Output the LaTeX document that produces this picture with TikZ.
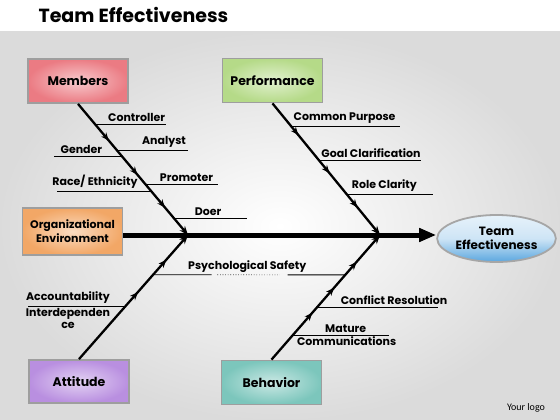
\documentclass[tikz,border=0pt]{standalone}
\usepackage{fontspec}
\setmainfont{Poppins}
\newfontfamily\logofont{Carlito}
\usetikzlibrary{arrows.meta, decorations.markings, shapes.geometric}

\definecolor{memred}{HTML}{EB7B83}
\definecolor{perfgreen}{HTML}{B5DA88}
\definecolor{orgorange}{HTML}{F2A766}
\definecolor{attpurple}{HTML}{B98FE0}
\definecolor{behteal}{HTML}{7CC6BC}
\definecolor{effblue}{HTML}{5BA7DF}

\begin{document}
\begin{tikzpicture}[
  x=1pt, y=-1pt,
  cause/.style={rectangle, draw=black!38, line width=1.8pt, minimum width=100pt, minimum height=44pt,
    align=center, inner color=#1!40!white, outer color=#1, font=\bfseries\fontsize{12.5}{14}\selectfont},
  effect/.style={ellipse, draw=black!35, line width=1.8pt, minimum width=117pt, minimum height=47pt,
    inner sep=1pt, align=center, top color=white!85!effblue, bottom color=effblue, middle color=white!70!effblue,
    font=\bfseries\fontsize{12}{14.5}\selectfont},
  spine/.style={line width=2.3pt, -{Stealth[length=9pt,width=7pt]}},
  midtip/.style={postaction={decoration={markings, mark=at position #1 with {\arrow{Stealth[length=8pt,width=6.5pt]}}}, decorate}},
  mainline/.style={line width=5pt, -{Triangle[length=17pt,width=13pt]}},
  bone/.style={line width=0.9pt},
  lbl/.style={font=\bfseries\fontsize{11}{12.5}\selectfont, inner sep=2.5pt}
]
\useasboundingbox (0,0) rectangle (560,420);

% Background
\fill[white] (0,0) rectangle (560,420);
\shade[inner color=white, outer color=black!14] (0,32) rectangle (560,420);
\node[anchor=west, font=\bfseries\fontsize{19}{22}\selectfont] (title) at (35,15) {Team Effectiveness};
\node[font=\logofont\fontsize{10}{12}\selectfont] (logo) at (526,408) {Your logo};

% Nodes
\node[cause=memred] (members) at (78,81) {Members};
\node[cause=perfgreen] (perf) at (272.5,80.5) {Performance};
\node[cause=orgorange, minimum height=47pt, font=\bfseries\fontsize{11}{14}\selectfont] (org) at (72.5,231.5) {Organizational\\Environment};
\node[cause=attpurple, minimum height=43pt] (att) at (79,381.5) {Attitude};
\node[cause=behteal] (beh) at (271.5,382.5) {Behavior};
\node[effect] (goal) at (496.5,238.5) {Team\\Effectiveness};

\coordinate (j1) at (188,235);
\coordinate (j2) at (380,235);

% Arrows
\draw[mainline] (org.east |- j1) -- (goal.west |- j1);

\draw[spine, midtip=0.28, midtip=0.54, midtip=0.79] (members.south)
  -- coordinate[pos=0.159] (mc) coordinate[pos=0.356] (ma) coordinate[pos=0.402] (mg)
     coordinate[pos=0.614] (mp) coordinate[pos=0.667] (mr) coordinate[pos=0.871] (md) (j1);
\draw[spine, midtip=0.24, midtip=0.53, midtip=0.79] (perf.south)
  -- coordinate[pos=0.174] (pc) coordinate[pos=0.432] (pg) coordinate[pos=0.689] (pr) (j2);
\draw[spine, midtip=0.54, midtip=0.8] (att.north)
  -- coordinate[pos=0.424] (la) coordinate[pos=0.68] (lp) (j1);
\draw[spine, midtip=0.376, midtip=0.576, midtip=0.784] (beh.north)
  -- coordinate[pos=0.192] (rm) coordinate[pos=0.416] (rc) coordinate[pos=0.68] (rp) (j2);

% Bones
\draw[bone] (mc) -- ++(71,0) node[lbl, pos=0.58, above] {Controller};
\draw[bone] (ma) -- ++(71,0) node[lbl, pos=0.66, above] {Analyst};
\draw[bone] (mg) -- ++(-68,0) node[lbl, pos=0.6, above] {Gender};
\draw[bone] (mp) -- ++(72,0) node[lbl, pos=0.57, above] {Promoter};
\draw[bone] (mr) -- ++(-94,0) node[lbl, pos=0.6, above] {Race/ Ethnicity};
\draw[bone] (md) -- ++(73,0) node[lbl, pos=0.47, above] {Doer};

\draw[bone] (pc) -- ++(109,0) node[lbl, pos=0.49, above] {Common Purpose};
\draw[bone] (pg) -- ++(102,0) node[lbl, pos=0.51, above] {Goal Clarification};
\draw[bone] (pr) -- ++(86,0) node[lbl, pos=0.44, above] {Role Clarity};

\draw[bone] (la) -- ++(-97,0) node[lbl, pos=0.59, above] {Accountability}
  node[lbl, pos=0.59, below, inner sep=1pt, align=center] {Interdependen\\ce};
\draw[bone] (rc) -- ++(121,0) node[lbl, pos=0.64, above] {Conflict Resolution};
\draw[bone] (rm) -- ++(97,0) node[lbl, pos=0.55, above] {Mature}
  node[lbl, pos=0.56, below, inner sep=1pt] {Communications};

\path (lp) -- coordinate[pos=0.305] (ps1) coordinate[pos=0.335] (ps2)
  coordinate[pos=0.66] (ps3) coordinate[pos=0.70] (ps4) (rp)
  node[lbl, pos=0.49, above] {Psychological Safety};
\draw[bone] (lp) -- (ps1) (ps4) -- (rp);
\draw[bone, line width=0.6pt, dotted] (ps2) -- (ps3);

\end{tikzpicture}
\end{document}
